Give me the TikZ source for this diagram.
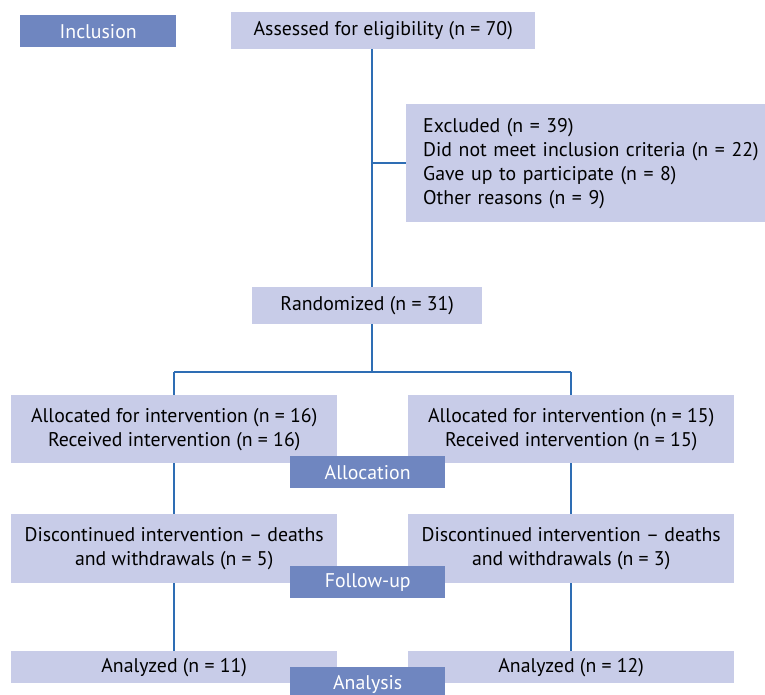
\documentclass[tikz,border=0pt]{standalone}
\usepackage{fontspec}
\setmainfont{PT Sans}
\definecolor{boxlight}{HTML}{C8CCE8}
\definecolor{boxdark}{HTML}{6F86C0}
\definecolor{linec}{HTML}{2E6DB4}
\begin{document}
\begin{tikzpicture}[x=1pt,y=-1pt,
  font=\fontsize{19.8}{24}\selectfont,
  lbox/.style={fill=boxlight, draw=none, inner sep=0pt, anchor=north west, align=center},
  dbox/.style={fill=boxdark, draw=none, inner sep=0pt, anchor=north west, text=white, align=center, minimum width=155pt, minimum height=32pt},
  conn/.style={draw=linec, line width=1.3pt}]
\useasboundingbox (0,0) rectangle (765,694);
\coordinate (top) at (372,49);
\coordinate (exbr) at (372,163);
\coordinate (rbot) at (372,324);
\coordinate (split) at (372,372);
\coordinate (lsplit) at (174,372);
\coordinate (rsplit) at (571,372);
\node[lbox, minimum width=304pt, minimum height=37pt] (assess) at (231,12) {Assessed for eligibility (n = 70)};
\node[lbox, minimum width=359pt, minimum height=118pt, align=left, text width=325pt] (excl) at (406,104) {\begin{tabular}{@{}l@{}}Excluded (n = 39)\\Did not meet inclusion criteria (n = 22)\\Gave up to participate (n = 8)\\Other reasons (n = 9)\end{tabular}};
\node[lbox, minimum width=230pt, minimum height=37pt] (rand) at (252,287) {Randomized (n = 31)};
\node[lbox, minimum width=326pt, minimum height=68pt] (allocL) at (11,395) {Allocated for intervention (n = 16)\\Received intervention (n = 16)};
\node[lbox, minimum width=326pt, minimum height=68pt] (allocR) at (408,395) {Allocated for intervention (n = 15)\\Received intervention (n = 15)};
\node[lbox, minimum width=326pt, minimum height=69pt] (discL) at (11,514) {Discontinued intervention – deaths\\and withdrawals (n = 5)};
\node[lbox, minimum width=326pt, minimum height=69pt] (discR) at (408,514) {Discontinued intervention – deaths\\and withdrawals (n = 3)};
\node[lbox, minimum width=326pt, minimum height=32pt] (anaL) at (11,651) {Analyzed (n = 11)};
\node[lbox, minimum width=326pt, minimum height=32pt] (anaR) at (408,651) {Analyzed (n = 12)};
\node[dbox, minimum width=156pt] (incl) at (20,15) {Inclusion};
\node[dbox] (alloc) at (290,456) {Allocation};
\node[dbox] (follow) at (290,566) {Follow-up};
\node[dbox, minimum height=34pt] (analysis) at (290,667) {Analysis};
\draw[conn] (assess.south -| top) -- (rand.north -| top);
\draw[conn] (exbr) -- (exbr -| excl.west);
\draw[conn] (rand.south -| rbot) -- (split);
\draw[conn] (lsplit) -- (rsplit);
\draw[conn] (lsplit) -- (lsplit |- allocL.north);
\draw[conn] (rsplit) -- (rsplit |- allocR.north);
\draw[conn] (allocL.south -| lsplit) -- (discL.north -| lsplit);
\draw[conn] (allocR.south -| rsplit) -- (discR.north -| rsplit);
\draw[conn] (discL.south -| lsplit) -- (anaL.north -| lsplit);
\draw[conn] (discR.south -| rsplit) -- (anaR.north -| rsplit);
\end{tikzpicture}
\end{document}
